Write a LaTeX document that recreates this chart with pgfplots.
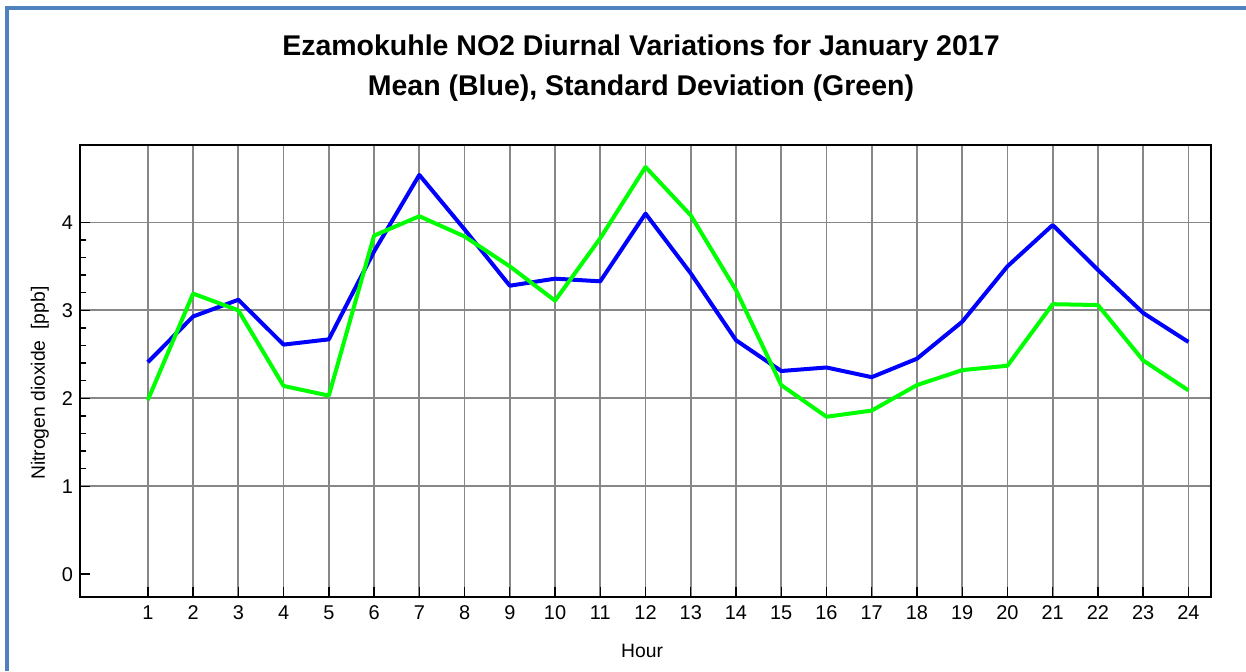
\documentclass[border=0pt]{standalone}
\usepackage{fontspec}
\setmainfont{Liberation Sans}
\usepackage{pgfplots}
\pgfplotsset{compat=1.18}
\definecolor{framecol}{RGB}{79,129,189}
\definecolor{gridcol}{RGB}{135,135,135}
\definecolor{meanblue}{RGB}{0,0,255}
\definecolor{sdgreen}{RGB}{0,255,0}
\pgfplotstableread{
hour mean sd
1 2.41 1.98
2 2.93 3.19
3 3.12 3.00
4 2.61 2.14
5 2.67 2.03
6 3.67 3.85
7 4.54 4.07
8 3.92 3.84
9 3.28 3.50
10 3.36 3.11
11 3.33 3.82
12 4.10 4.63
13 3.42 4.08
14 2.66 3.23
15 2.31 2.15
16 2.35 1.79
17 2.24 1.86
18 2.45 2.15
19 2.87 2.32
20 3.50 2.37
21 3.97 3.07
22 3.46 3.06
23 2.97 2.43
24 2.64 2.09
}\datatable
\begin{document}
\begin{tikzpicture}[x=1bp,y=1bp]
\useasboundingbox (0,0) rectangle (623,335.5);
\fill[white] (0,0) rectangle (623,335.5);
\draw[framecol, line width=1.6bp] (3.5,0) -- (3.5,331.5) -- (623,331.5);
\begin{axis}[
  at={(40bp,37bp)}, anchor=south west, scale only axis,
  width=565.5bp, height=226bp,
  xmin=-0.5, xmax=24.5, ymin=-0.26, ymax=4.88,
  xtick={1,...,24}, ytick={1,2,3,4},
  extra y ticks={0}, extra y tick style={grid=none},
  minor y tick num=4,
  xmajorgrids, ymajorgrids,
  grid style={gridcol, line width=0.85bp},
  tick align=inside, xtick pos=lower, ytick pos=left,
  major tick length=5bp, minor tick length=3bp,
  tick style={black, line width=0.7bp},
  axis line style={black, line width=0.8bp},
  /pgf/number format/assume math mode=true,
  ticklabel style={font=\fontsize{10}{11}\selectfont, text=black},
  xticklabel style={yshift=-1bp},
  xlabel={Hour}, ylabel={Nitrogen dioxide\ \ [ppb]},
  label style={font=\fontsize{9.7}{11}\selectfont},
  xlabel style={at={(axis description cs:0.497,-0.119)}, anchor=center},
  ylabel style={at={(axis description cs:-0.0354,0.473)}, anchor=center},
  title={Ezamokuhle NO2 Diurnal Variations for January 2017\\Mean (Blue), Standard Deviation (Green)},
  title style={at={(axis description cs:0.496,1.144)}, anchor=center, align=center,
    font=\fontsize{14.3}{20}\selectfont\bfseries},
]
\addplot[meanblue, line width=2bp, line join=round] table[x=hour, y=mean] {\datatable};
\addplot[sdgreen, line width=2bp, line join=round] table[x=hour, y=sd] {\datatable};
\end{axis}
\end{tikzpicture}
\end{document}
